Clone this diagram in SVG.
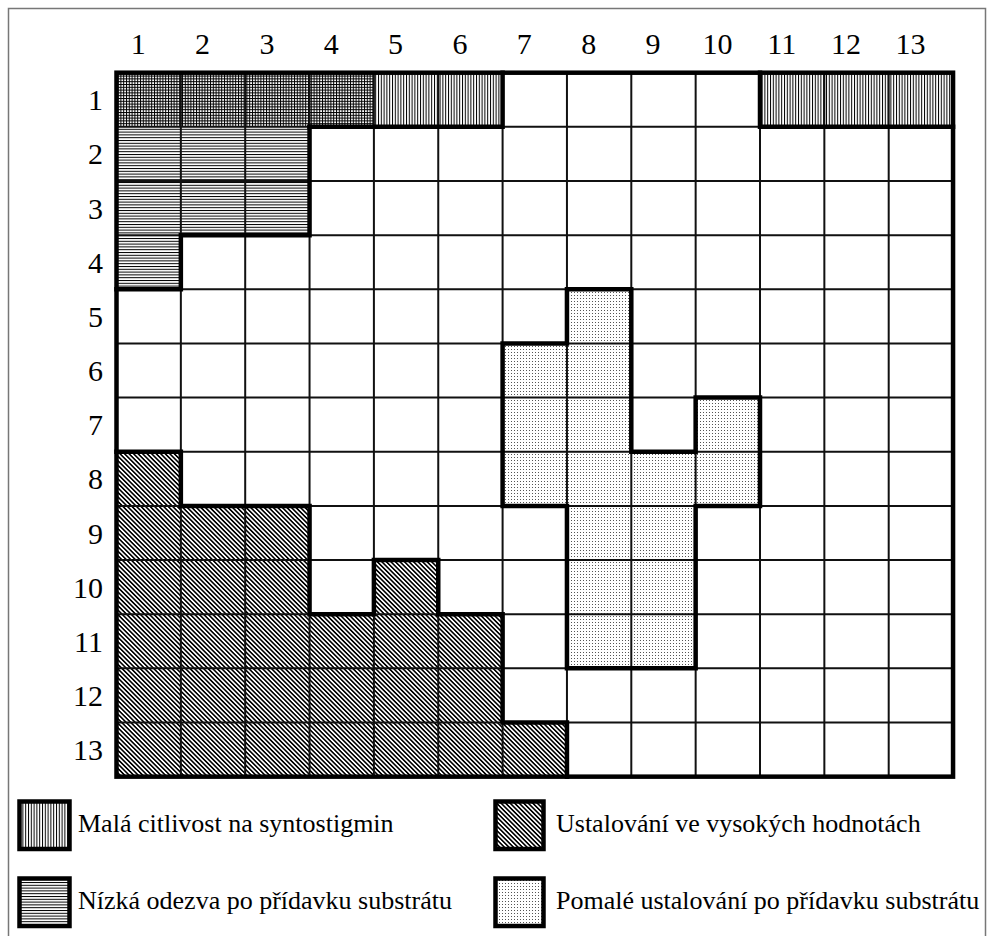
<svg xmlns="http://www.w3.org/2000/svg" width="987" height="936" viewBox="0 0 987 936">
<style>
.num{font-family:"Liberation Serif","Times New Roman",serif;font-size:30px;fill:#000}
.leg{font-family:"Liberation Serif","Times New Roman",serif;font-size:26px;fill:#000}
.thin{stroke:#111;stroke-width:2;fill:none}
.thick{stroke:#000;stroke-width:4.5;fill:none;stroke-linecap:square;stroke-linejoin:miter}
.box{stroke:#000;stroke-width:4.5}
</style>
<defs>
<pattern id="pv" width="2.8" height="10" patternUnits="userSpaceOnUse"><rect width="2.8" height="10" fill="#fff"/><rect x="0" y="0" width="1" height="10" fill="#000"/></pattern>
<pattern id="ph" width="10" height="2.8" patternUnits="userSpaceOnUse"><rect width="10" height="2.8" fill="#fff"/><rect x="0" y="0" width="10" height="1" fill="#000"/></pattern>
<pattern id="px" width="2.8" height="2.8" patternUnits="userSpaceOnUse"><rect width="2.8" height="2.8" fill="#fff"/><rect x="0" y="0" width="1" height="2.8" fill="#000"/><rect x="0" y="0" width="2.8" height="1" fill="#000"/></pattern>
<pattern id="pd" width="3.2" height="10" patternUnits="userSpaceOnUse" patternTransform="rotate(-45)"><rect width="3.2" height="10" fill="#fff"/><rect x="0" y="0" width="1.6" height="10" fill="#000"/></pattern>
<pattern id="pp" width="3" height="3" patternUnits="userSpaceOnUse"><rect width="3" height="3" fill="#fff"/><rect x="1" y="1" width="1" height="1" fill="#555"/></pattern>
</defs>
<rect x="0" y="0" width="987" height="936" fill="#fff"/>
<rect id="frame" x="8.5" y="8.5" width="977" height="940" fill="none" stroke="#777" stroke-width="1.5"/>

<g id="fills">
<rect x="116.5" y="72.7" width="257.4" height="54.15" fill="url(#px)"/>
<rect x="373.9" y="72.7" width="128.7" height="54.15" fill="url(#pv)"/>
<rect x="760" y="72.7" width="193.05" height="54.15" fill="url(#pv)"/>
<path d="M116.5,126.85 H309.55 V235.15 H180.85 V289.3 H116.5 Z" fill="url(#ph)"/>
<path d="M116.5,451.75 H180.85 V505.9 H309.55 V614.2 H373.9 V560.05 H438.25 V614.2 H502.6 V722.5 H566.95 V776.65 H116.5 Z" fill="url(#pd)"/>
<path d="M502.6,343.45 H566.95 V289.3 H631.3 V451.75 H695.65 V397.6 H760 V505.9 H695.65 V668.35 H566.95 V505.9 H502.6 Z" fill="url(#pp)"/>
</g>

<g id="grid" class="thin">
<path d="M180.85,72.7V776.65 M245.2,72.7V776.65 M309.55,72.7V776.65 M373.9,72.7V776.65 M438.25,72.7V776.65 M502.6,72.7V776.65 M566.95,72.7V776.65 M631.3,72.7V776.65 M695.65,72.7V776.65 M760,72.7V776.65 M824.35,72.7V776.65 M888.7,72.7V776.65"/>
<path d="M116.5,126.85H953.05 M116.5,181H953.05 M116.5,235.15H953.05 M116.5,289.3H953.05 M116.5,343.45H953.05 M116.5,397.6H953.05 M116.5,451.75H953.05 M116.5,505.9H953.05 M116.5,560.05H953.05 M116.5,614.2H953.05 M116.5,668.35H953.05 M116.5,722.5H953.05"/>
</g>

<g id="outlines" class="thick">
<rect x="116.5" y="72.7" width="836.55" height="703.95"/>
<path d="M309.55,126.85 H502.6 V72.7"/>
<path d="M760,72.7 V126.85 H953.05"/>
<path d="M309.55,126.85 V235.15 H180.85 V289.3 H116.5"/>
<path d="M116.5,451.75 H180.85 V505.9 H309.55 V614.2 H373.9 V560.05 H438.25 V614.2 H502.6 V722.5 H566.95 V776.65"/>
<path d="M502.6,343.45 H566.95 V289.3 H631.3 V451.75 H695.65 V397.6 H760 V505.9 H695.65 V668.35 H566.95 V505.9 H502.6 Z"/>
</g>

<g id="col-labels" class="num" text-anchor="middle">
<text x="138.2" y="54">1</text>
<text x="202.6" y="54">2</text>
<text x="266.9" y="54">3</text>
<text x="331.3" y="54">4</text>
<text x="395.6" y="54">5</text>
<text x="460" y="54">6</text>
<text x="524.3" y="54">7</text>
<text x="588.7" y="54">8</text>
<text x="653" y="54">9</text>
<text x="717.4" y="54">10</text>
<text x="781.7" y="54">11</text>
<text x="846.1" y="54">12</text>
<text x="910.4" y="54">13</text>
</g>

<g id="row-labels" class="num" text-anchor="end">
<text x="103" y="110.3">1</text>
<text x="103" y="164.4">2</text>
<text x="103" y="218.6">3</text>
<text x="103" y="272.7">4</text>
<text x="103" y="326.9">5</text>
<text x="103" y="381">6</text>
<text x="103" y="435.2">7</text>
<text x="103" y="489.3">8</text>
<text x="103" y="543.5">9</text>
<text x="103" y="597.6">10</text>
<text x="103" y="651.8">11</text>
<text x="103" y="705.9">12</text>
<text x="103" y="760.1">13</text>
</g>

<g id="legend-1">
<rect class="box" x="19.5" y="801.5" width="50" height="47.5" fill="url(#pv)"/>
<text class="leg" x="78" y="832">Malá citlivost na syntostigmin</text>
</g>
<g id="legend-2">
<rect class="box" x="19.5" y="878.5" width="50" height="47.5" fill="url(#ph)"/>
<text class="leg" x="78" y="909">Nízká odezva po přídavku substrátu</text>
</g>
<g id="legend-3">
<rect class="box" x="495.5" y="801.5" width="48" height="47.5" fill="url(#pd)"/>
<text class="leg" x="556" y="832">Ustalování ve vysokých hodnotách</text>
</g>
<g id="legend-4">
<rect class="box" x="495.5" y="878.5" width="48" height="47.5" fill="url(#pp)"/>
<text class="leg" x="556" y="909">Pomalé ustalování po přídavku substrátu</text>
</g>
</svg>
